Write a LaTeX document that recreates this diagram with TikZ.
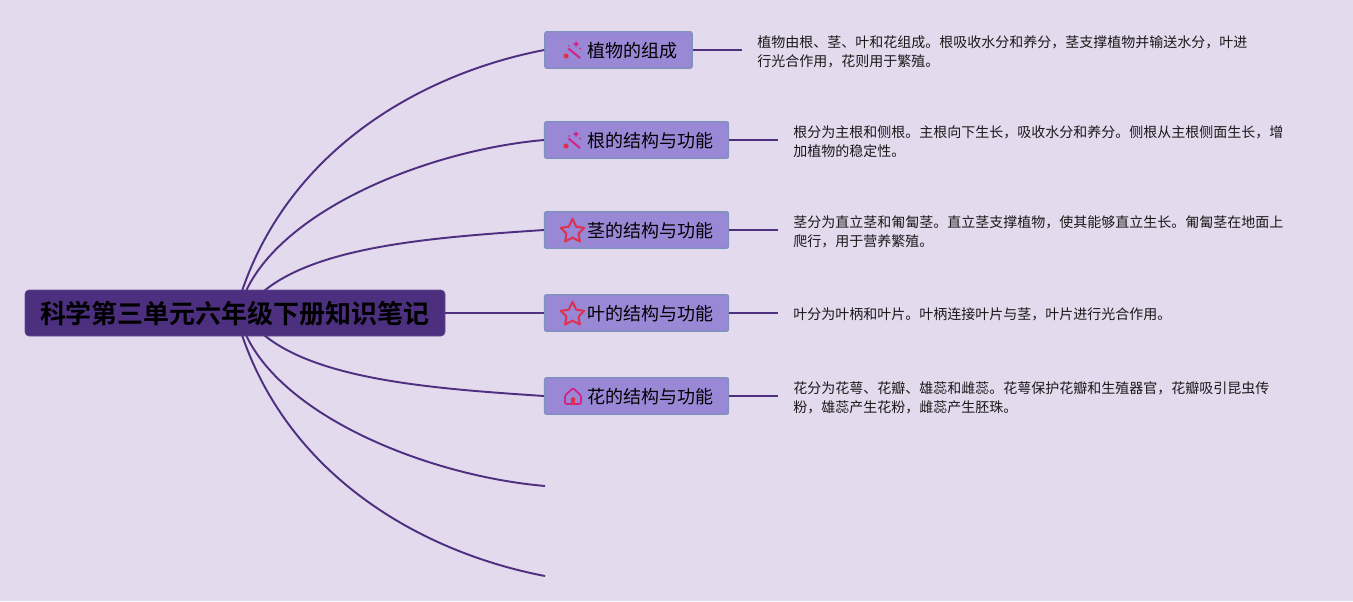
\documentclass[tikz,border=0pt]{standalone}
\usepackage{fontspec}
\setmainfont{Noto Sans CJK SC}[BoldFont={Noto Sans CJK SC Bold}]
\definecolor{bgc}{HTML}{E4DAEE}
\definecolor{rootc}{HTML}{4D2F7F}
\definecolor{linec}{HTML}{4E2F80}
\definecolor{boxc}{HTML}{9888D6}
\definecolor{boxb}{HTML}{7E93BC}
\definecolor{iconr}{HTML}{E0304F}
\definecolor{iconp}{HTML}{D6208A}
\tikzset{
  conn/.style={draw=linec,line width=1.45pt},
  rootbox/.style={fill=rootc,draw=rootc!85!white,rounded corners=3pt,line width=.5pt,minimum width=315pt,minimum height=34.5pt,inner sep=0pt},
  topicbox/.style={fill=boxc,draw=boxb,rounded corners=1.5pt,line width=.9pt,minimum height=27.5pt,inner sep=0pt},
  topicw/.style={minimum width=138pt},
  topicn/.style={minimum width=110.5pt},
  lab/.style={inner sep=0pt,anchor=west,font=\fontsize{13.5}{16}\selectfont},
  roottext/.style={inner sep=0pt,font=\fontsize{19.5}{24}\selectfont\bfseries,text=black},
  desc/.style={inner sep=0pt,anchor=north west,align=left,font=\fontsize{10.5}{14.25}\selectfont,text=black!90},
  staricon/.style={draw=iconr,line width=1.5pt,line join=round},
  wandicon/.style={draw=iconp,line width=1.5pt},
}
\newcommand{\wandat}[2]{%
  \begin{scope}[shift={(#1,#2)}]
    \draw[wandicon] (-3.5,-2.5) -- (8,7);
    \fill[iconr] (-6,5) circle (2.6);
    \fill[iconp] (4,-10) -- (5,-8) -- (7.5,-7) -- (5,-6) -- (4,-3.5) -- (3,-6) -- (.5,-7) -- (3,-8) -- cycle;
    \fill[iconr] (8,-2.5) circle (1);
    \fill[iconr] (-3,-5) circle (.8);
  \end{scope}}
\newcommand{\starat}[2]{%
  \draw[staricon] (#1,#2-12.2) -- (#1+3.7,#2-4.3) -- (#1+11.6,#2-3.2) -- (#1+6,#2+2.7) -- (#1+7.4,#2+10.5) -- (#1,#2+6.6) -- (#1-7.4,#2+10.5) -- (#1-6,#2+2.7) -- (#1-11.6,#2-3.2) -- (#1-3.7,#2-4.3) -- cycle;}
\newcommand{\homeat}[2]{%
  \draw[draw=iconp,line width=1.3pt,line join=round,rounded corners=1pt] (#1-8,#2+7) -- (#1-8,#2-1.5) -- (#1,#2-9) -- (#1+8,#2-1.5) -- (#1+8,#2+7) -- cycle;
  \fill[iconr] (#1-2.4,#2+2.5) rectangle (#1+2.4,#2+7.5);
  \fill[iconr] (#1,#2+2.5) circle (2.4);}
\begin{document}
\begin{tikzpicture}[x=0.75pt,y=-0.75pt]
\useasboundingbox (0,0) rectangle (1353,601);
\fill[bgc] (0,0) rectangle (1353,601);
% free ends
\coordinate (s1) at (242,291);
\coordinate (s2) at (246,291);
\coordinate (s3) at (264,291);
\coordinate (s5) at (264,335);
\coordinate (s6) at (246,335);
\coordinate (s7) at (242,335);
\coordinate (e6) at (545,486);
\coordinate (e7) at (545,576);
\coordinate (r1) at (742,50);
\coordinate (r2) at (778,140);
\coordinate (r3) at (778,230);
\coordinate (r4) at (778,313);
\coordinate (r5) at (778,396);
% root and topics
\node[rootbox] (root) at (235,313) {};
\node[roottext] (roott) at (235,314) {科学第三单元六年级下册知识笔记};
\node[topicbox,topicn] (t1) at (618.5,50) {};
\node[topicbox,topicw] (t2) at (636.5,140) {};
\node[topicbox,topicw] (t3) at (636.5,230) {};
\node[topicbox,topicw] (t4) at (636.5,313) {};
\node[topicbox,topicw] (t5) at (636.5,396) {};
\node[lab] (l1) at (587,50.5) {植物的组成};
\node[lab] (l2) at (587,140.5) {根的结构与功能};
\node[lab] (l3) at (587,230.5) {茎的结构与功能};
\node[lab] (l4) at (587,313.5) {叶的结构与功能};
\node[lab] (l5) at (587,396.5) {花的结构与功能};
% connectors
\draw[conn] (s1) .. controls (290,150) and (420,74) .. (t1.west);
\draw[conn] (s2) .. controls (285,208) and (430,150) .. (t2.west);
\draw[conn] (s3) .. controls (320,245) and (440,237) .. (t3.west);
\draw[conn] (root.east) -- (t4.west);
\draw[conn] (s5) .. controls (320,381) and (440,389) .. (t5.west);
\draw[conn] (s6) .. controls (285,418) and (430,476) .. (e6);
\draw[conn] (s7) .. controls (290,476) and (420,552) .. (e7);
\draw[conn] (t1.east) -- (r1);
\draw[conn] (t2.east) -- (r2);
\draw[conn] (t3.east) -- (r3);
\draw[conn] (t4.east) -- (r4);
\draw[conn] (t5.east) -- (r5);
% icons
\wandat{572}{51}
\wandat{572}{141}
\starat{572.5}{231}
\starat{572.5}{314}
\homeat{573}{397}
% descriptions
\node[desc] (d1) at (757,35.5) {植物由根、茎、叶和花组成。根吸收水分和养分，茎支撑植物并输送水分，叶进\\行光合作用，花则用于繁殖。};
\node[desc] (d2) at (793,125.5) {根分为主根和侧根。主根向下生长，吸收水分和养分。侧根从主根侧面生长，增\\加植物的稳定性。};
\node[desc] (d3) at (793,215.5) {茎分为直立茎和匍匐茎。直立茎支撑植物，使其能够直立生长。匍匐茎在地面上\\爬行，用于营养繁殖。};
\node[desc] (d4) at (793,307.5) {叶分为叶柄和叶片。叶柄连接叶片与茎，叶片进行光合作用。};
\node[desc] (d5) at (793,381.5) {花分为花萼、花瓣、雄蕊和雌蕊。花萼保护花瓣和生殖器官，花瓣吸引昆虫传\\粉，雄蕊产生花粉，雌蕊产生胚珠。};
\end{tikzpicture}
\end{document}
